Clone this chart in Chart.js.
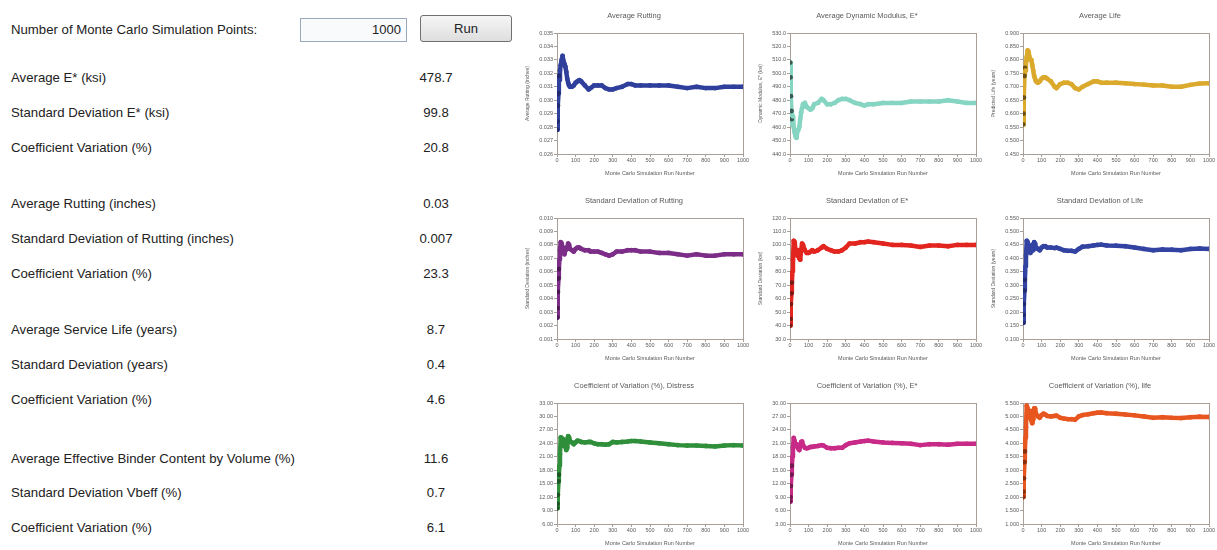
<!DOCTYPE html>
<html>
<head>
<meta charset="utf-8">
<script src="https://cdn.jsdelivr.net/npm/chart.js@4.4.1/dist/chart.umd.min.js"></script>
<style>
  body { margin: 0; width: 1217px; height: 550px; background: #fff; position: relative; overflow: hidden; font-family: "Liberation Sans", Arial, sans-serif; color: #222; }
  .lbl { position: absolute; left: 11px; font-size: 13.2px; transform: translateY(-50%); white-space: nowrap; }
  .val { position: absolute; left: 436px; font-size: 13.2px; transform: translate(-50%, -50%); white-space: nowrap; }
  #pts { position: absolute; left: 300px; top: 18px; width: 107px; height: 24px; box-sizing: border-box; border: 1px solid #9aa8bc; background: #f8fafc; text-align: right; padding-right: 5px; line-height: 22px; font-size: 13px; }
  #run { position: absolute; left: 420px; top: 15px; width: 92px; height: 27px; box-sizing: border-box; border: 1px solid #707070; border-radius: 3px; background: linear-gradient(#f6f6f6, #dedede); text-align: center; line-height: 25px; font-size: 13px; }
  canvas { position: absolute; }
</style>
</head>
<body>
<div class="lbl" style="top:29px">Number of Monte Carlo Simulation Points:</div>
<div id="pts">1000</div>
<div id="run">Run</div>

<div class="lbl" style="top:77px">Average E* (ksi)</div><div class="val" style="top:77px">478.7</div>
<div class="lbl" style="top:112px">Standard Deviation E* (ksi)</div><div class="val" style="top:112px">99.8</div>
<div class="lbl" style="top:147px">Coefficient Variation (%)</div><div class="val" style="top:147px">20.8</div>

<div class="lbl" style="top:203px">Average Rutting (inches)</div><div class="val" style="top:203px">0.03</div>
<div class="lbl" style="top:238px">Standard Deviation of Rutting (inches)</div><div class="val" style="top:238px">0.007</div>
<div class="lbl" style="top:273px">Coefficient Variation (%)</div><div class="val" style="top:273px">23.3</div>

<div class="lbl" style="top:329px">Average Service Life (years)</div><div class="val" style="top:329px">8.7</div>
<div class="lbl" style="top:364px">Standard Deviation (years)</div><div class="val" style="top:364px">0.4</div>
<div class="lbl" style="top:399px">Coefficient Variation (%)</div><div class="val" style="top:399px">4.6</div>

<div class="lbl" style="top:458px">Average Effective Binder Content by Volume (%)</div><div class="val" style="top:458px">11.6</div>
<div class="lbl" style="top:492px">Standard Deviation Vbeff (%)</div><div class="val" style="top:492px">0.7</div>
<div class="lbl" style="top:527px">Coefficient Variation (%)</div><div class="val" style="top:527px">6.1</div>

<script>
// run numbers (x) shared by all nine series
const runNumbers = [1,3,5,8,10, 13,16,20,25,30, 35,40,45,50,55, 60,65,70,80,90, 100,110,120,130,150, 170,180,200,220,240, 260,280,300,320,350, 380,400,420,450,500, 550,600,650,700,750, 800,850,900,950,1000];

// series
const avgRutting = [0.0278,0.0284,0.0296,0.0305,0.0318, 0.0315,0.0322,0.0326,0.0330,0.0333, 0.0329,0.0327,0.0325,0.0321,0.0316, 0.0313,0.0311,0.0310,0.0310,0.0311, 0.0313,0.0314,0.0315,0.0314,0.0311, 0.0308,0.0309,0.0311,0.0311,0.0311, 0.0309,0.0308,0.0308,0.0309,0.0310, 0.0312,0.0312,0.0311,0.0311,0.0311, 0.0311,0.0311,0.0310,0.0309,0.0310, 0.0309,0.0309,0.0310,0.0310,0.0310];
const avgModulus = [508,497,483,472,466, 462,468,460,456,453, 452,457,458,460,466, 471,474,477,478,475, 474,473,474,477,478, 481,480,477,477,478, 480,481,481,480,478, 477,476,477,477,478, 478,478,479,479,479, 479,480,479,478,478];
const avgLife = [0.56,0.60,0.66,0.74,0.77, 0.76,0.79,0.81,0.835,0.83, 0.81,0.80,0.80,0.78,0.76, 0.74,0.73,0.72,0.715,0.72, 0.73,0.735,0.735,0.73,0.72, 0.70,0.695,0.71,0.715,0.715, 0.71,0.695,0.69,0.70,0.71, 0.72,0.72,0.715,0.715,0.715, 0.713,0.71,0.708,0.705,0.705, 0.70,0.70,0.707,0.712,0.713];
const sdRutting = [0.0026,0.0033,0.0045,0.0055,0.0062, 0.0069,0.0076,0.0082,0.0081,0.0078, 0.0076,0.0073,0.0076,0.0078,0.0077, 0.0081,0.0080,0.0077,0.0076,0.0075, 0.0077,0.0078,0.0078,0.0077,0.0076, 0.0076,0.0075,0.0075,0.0075,0.0074, 0.0073,0.0072,0.0073,0.0075,0.0075, 0.0076,0.0076,0.0076,0.0075,0.0075, 0.0074,0.0074,0.0073,0.0072,0.0073, 0.0072,0.0072,0.0073,0.0073,0.0073];
const sdModulus = [40,45,56,64,72, 80,89,103,102,96, 94,92,96,90,89, 96,101,100,96,94, 94,95,96,95,96, 98,99,97,96,95, 95,96,98,101,101, 102,102,102.5,102,101, 100,100,99.5,98.5,99.5, 99.5,99,100,100,100];
const sdLife = [0.16,0.19,0.23,0.28,0.32, 0.37,0.41,0.465,0.46,0.44, 0.43,0.42,0.44,0.45,0.43, 0.46,0.455,0.44,0.435,0.43, 0.44,0.445,0.445,0.44,0.44, 0.438,0.44,0.435,0.43,0.428, 0.428,0.425,0.435,0.443,0.445, 0.448,0.45,0.451,0.448,0.447, 0.445,0.44,0.435,0.43,0.433, 0.432,0.43,0.435,0.437,0.435];
const covDistress = [9.5,10.5,12.5,15.5,17, 19,21.5,25.3,25.2,24, 23.5,24.8,23.2,22.5,23, 25.6,25.3,24.5,24.2,23.8, 24.2,24.6,24.5,24.3,24.2, 24.3,24.3,24,23.8,23.8, 23.7,23.8,24.3,24.2,24.3, 24.4,24.5,24.5,24.4,24.2, 24,23.8,23.6,23.5,23.5, 23.4,23.3,23.5,23.6,23.5];
const covModulus = [8,9,11.5,14,16, 18,20,22.2,21.5,20.5, 20.8,20.2,19.8,19.5,20.5, 21.3,21.4,20.6,20,19.9, 20,20.2,20.2,20.3,20.4, 20.6,20.5,20,19.9,19.9, 20,20,20.6,21,21.2, 21.4,21.5,21.6,21.4,21.2, 21.1,21,20.9,20.6,20.8, 20.8,20.7,20.9,20.9,20.9];
const covLife = [2,2.2,2.7,3.3,3.7, 4.2,4.6,5.4,5.3,5.05, 4.95,5.2,4.85,4.75,4.9, 5.3,5.3,5.1,5,4.95, 5.05,5.1,5.07,5.02,5, 5.02,5.03,4.95,4.92,4.9, 4.9,4.88,5,5.05,5.08, 5.12,5.14,5.15,5.12,5.1, 5.07,5.04,5,4.95,4.97, 4.95,4.94,4.97,4.99,4.98];

const seriesList = [avgRutting, avgModulus, avgLife, sdRutting, sdModulus, sdLife, covDistress, covModulus, covLife];

const chartTitles = ['Average Rutting', 'Average Dynamic Modulus, E*', 'Average Life',
  'Standard Deviation of Rutting', 'Standard Deviation of E*', 'Standard Deviation of Life',
  'Coefficient of Variation (%), Distress', 'Coefficient of Variation (%), E*', 'Coefficient of Variation (%), life'];
const yTitles = ['Average Rutting (inches)', 'Dynamic Modulus, E* (ksi)', 'Predicted Life (years)',
  'Standard Deviation (inches)', 'Standard Deviation (ksi)', 'Standard Deviation (years)', '', '', ''];
const xTitle = 'Monte Carlo Simulation Run Number';

// y tick ranges
const yMins = [0.026, 440, 0.45, 0.001, 30, 0.1, 6, 3, 1];
const yMaxs = [0.035, 530, 0.9, 0.010, 120, 0.55, 33, 30, 5.5];
const ySteps = [0.001, 10, 0.05, 0.001, 10, 0.05, 3, 3, 0.5];
const yDecimals = [3, 1, 3, 3, 1, 3, 2, 2, 3];

const lineColors = ['#2f3f9c', '#86d5c2', '#dba92c', '#7b2d88', '#e2261f', '#3343a2', '#2f8f3a', '#c82a88', '#e8561f'];
const darkColors = ['#222a70', '#3a5a50', '#6a5018', '#4a1a50', '#7a1a14', '#222a70', '#1e5424', '#701a50', '#8a3010'];

const colLefts = [525, 758, 991];
const rowTops = [0, 185, 370];
const frameColor = '#a8a098';
const textColor = '#5a5a5a';

// 画出绘图区的边框
const frame = {
  id: 'frame',
  beforeDatasetsDraw(chart) {
    const a = chart.chartArea;
    const ctx = chart.ctx;
    ctx.save();
    ctx.strokeStyle = frameColor;
    ctx.lineWidth = 1;
    ctx.strokeRect(Math.round(a.left) + 0.5, Math.round(a.top) + 0.5, Math.round(a.right - a.left), Math.round(a.bottom - a.top));
    ctx.restore();
  }
};

function makeChart(i) {
  const canvas = document.createElement('canvas');
  canvas.width = 232;
  canvas.height = 185;
  canvas.style.left = colLefts[i % 3] + 'px';
  canvas.style.top = rowTops[Math.floor(i / 3)] + 'px';
  document.body.appendChild(canvas);

  const color = lineColors[i];
  const points = runNumbers.map((x, k) => ({ x: x, y: seriesList[i][k] }));

  new Chart(canvas.getContext('2d'), {
    type: 'line',
    data: {
      datasets: [{
        data: points,
        borderColor: color,
        backgroundColor: color,
        borderWidth: 4.5,
        borderJoinStyle: 'round',
        borderCapStyle: 'round',
        pointRadius: 2.4,
        pointBorderWidth: 0,
        pointBackgroundColor: ctx => ctx.dataIndex < 5 ? darkColors[i] : color,
        tension: 0
      }]
    },
    options: {
      responsive: false,
      animation: false,
      layout: { padding: { left: 0, right: 14, top: 0, bottom: 0 } },
      plugins: {
        legend: { display: false },
        tooltip: { enabled: false },
        title: {
          display: true,
          text: chartTitles[i],
          color: textColor,
          font: { family: 'Liberation Sans', size: 7.5, weight: 'normal' },
          padding: { top: 11, bottom: 13 }
        }
      },
      scales: {
        x: {
          type: 'linear',
          min: 0,
          max: 1000,
          ticks: { stepSize: 100, color: textColor, font: { family: 'Liberation Sans', size: 5.5 }, padding: 0.5, maxRotation: 0, autoSkip: false, callback: v => String(v) },
          grid: { drawOnChartArea: false, drawTicks: true, tickLength: 3, color: frameColor },
          border: { color: frameColor },
          title: { display: true, text: xTitle, color: textColor, font: { family: 'Liberation Sans', size: 5.5 }, padding: { top: 0, bottom: 8.7 } },
          afterFit: s => { s.height = 31; s.paddingLeft = 0; s.paddingRight = 0; }
        },
        y: {
          type: 'linear',
          min: yMins[i],
          max: yMaxs[i],
          ticks: {
            stepSize: ySteps[i],
            color: textColor,
            font: { family: 'Liberation Sans', size: 5.5 },
            padding: 1,
            autoSkip: false,
            callback: v => Number(v).toFixed(yDecimals[i])
          },
          grid: { drawOnChartArea: false, drawTicks: true, tickLength: 3, color: frameColor },
          border: { color: frameColor },
          title: { display: yTitles[i] !== '', text: yTitles[i], color: textColor, font: { family: 'Liberation Sans', size: 5 }, padding: 0 },
          afterFit: s => { s.width = 32; s.paddingTop = 0; s.paddingBottom = 0; }
        }
      }
    },
    plugins: [frame]
  });
}

for (let i = 0; i < 9; i++) {
  makeChart(i);
}
</script>
</body>
</html>
